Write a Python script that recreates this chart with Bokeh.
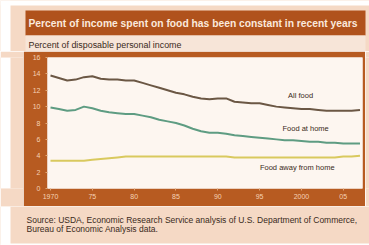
from bokeh.plotting import figure
from bokeh.models import Range1d, BoxAnnotation, Label, FixedTicker
from bokeh.layouts import column, row
from bokeh.embed import file_html
from bokeh.resources import INLINE

# ---------------- data ----------------
years = list(range(1970, 2008))
all_food = [13.8, 13.5, 13.2, 13.3, 13.6, 13.7, 13.4, 13.3, 13.3, 13.2,
            13.2, 12.9, 12.6, 12.3, 12.0, 11.7, 11.5, 11.2, 11.0, 10.9,
            11.0, 11.0, 10.6, 10.5, 10.4, 10.4, 10.2, 10.0, 9.9, 9.8,
            9.7, 9.7, 9.6, 9.5, 9.5, 9.5, 9.5, 9.6]
food_at_home = [9.9, 9.7, 9.5, 9.6, 10.0, 9.8, 9.5, 9.3, 9.2, 9.1,
                9.1, 8.9, 8.7, 8.4, 8.2, 8.0, 7.7, 7.3, 7.0, 6.8,
                6.8, 6.7, 6.5, 6.4, 6.3, 6.2, 6.1, 6.0, 5.9, 5.9,
                5.8, 5.7, 5.7, 5.6, 5.6, 5.5, 5.5, 5.5]
food_away = [3.4, 3.4, 3.4, 3.4, 3.4, 3.5, 3.6, 3.7, 3.8, 3.9,
             3.9, 3.9, 3.9, 3.9, 3.9, 3.9, 3.9, 3.9, 3.9, 3.9,
             3.9, 3.9, 3.8, 3.8, 3.8, 3.8, 3.8, 3.8, 3.8, 3.8,
             3.8, 3.8, 3.8, 3.8, 3.8, 3.9, 3.9, 4.0]
x_ticks = [1970, 1975, 1980, 1985, 1990, 1995, 2000, 2005]
x_tick_labels = ["1970", "75", "80", "85", "90", "95", "2000", "05"]
y_ticks = [0, 2, 4, 6, 8, 10, 12, 14, 16]

title_text = "Percent of income spent on food has been constant in recent years"
subtitle_text = "Percent of disposable personal income"
source_1 = "Source: USDA, Economic Research Service analysis of U.S. Department of Commerce,"
source_2 = "Bureau of Economic Analysis data."

# ---------------- style ----------------
FONT = "Liberation Sans"
PEACH = "#f5d9c5"
BROWN = "#b75b21"
TITLE_BG = "#b0521c"
SUB_BG = "#f7e5d8"
INNER = "#fdf6f0"
DARK = "#3a2a20"


def blank(w, h, x_end, y_end):
    f = figure(width=w, height=h, output_backend="svg", toolbar_location=None,
               x_range=Range1d(0, x_end), y_range=Range1d(y_end, 0),
               x_axis_type=None, y_axis_type=None, min_border=0)
    f.border_fill_color = PEACH
    f.background_fill_color = PEACH
    f.outline_line_color = None
    f.xgrid.visible = False
    f.ygrid.visible = False
    return f


def box(f, l, r, b, t, color):
    f.add_layout(BoxAnnotation(left=l, right=r, bottom=b, top=t, fill_color=color,
                               fill_alpha=1.0, line_color=None, level="underlay"))


def text(f, x, y, t, size, color, style="normal"):
    f.add_layout(Label(x=x, y=y, text=t, text_font=FONT, text_font_size=size,
                       text_color=color, text_font_style=style,
                       text_baseline="middle", text_align="left"))


# ---- header (title + subtitle) ----
head = blank(369, 51, 369, 51)
box(head, 0, 10, 51, 0, "white")
box(head, 0, 369, 5, 0, "white")
box(head, 25, 365, 35, 10, TITLE_BG)
box(head, 25, 365, 51, 35, SUB_BG)
text(head, 28, 23, title_text, "10.3px", "#fbe9dc", "bold")
text(head, 28, 44, subtitle_text, "8.9px", DARK)

# ---- side pads ----
left_pad = blank(23, 155, 23, 155)
box(left_pad, 0, 10, 155, 0, "white")
right_pad = blank(4, 155, 4, 155)

# ---- main chart ----
p = figure(width=342, height=155, output_backend="svg", toolbar_location=None,
           x_range=Range1d(1969.64, 2007.3), y_range=Range1d(0, 16),
           min_border_left=24, min_border_right=3, min_border_top=6, min_border_bottom=18)
p.border_fill_color = BROWN
p.background_fill_color = INNER
p.outline_line_color = None
p.xgrid.visible = False
p.ygrid.visible = False

p.line(years, all_food, line_color="#6b5744", line_width=2)
p.line(years, food_at_home, line_color="#5e9c82", line_width=2)
p.line(years, food_away, line_color="#d9c95e", line_width=2)

for ax in (p.xaxis[0], p.yaxis[0]):
    ax.axis_line_color = None
    ax.major_tick_line_color = "#e0a878"
    ax.minor_tick_line_color = None
    ax.major_tick_in = 0
    ax.major_tick_out = 2
    ax.major_label_text_font = FONT
    ax.major_label_text_font_size = "7px"
    ax.major_label_text_color = "#f6d2b4"

p.xaxis.ticker = FixedTicker(ticks=x_ticks)
p.xaxis.major_label_overrides = {t: s for t, s in zip(x_ticks, x_tick_labels)}
p.xaxis.major_label_standoff = 3
p.yaxis.ticker = FixedTicker(ticks=y_ticks)
p.yaxis.major_label_standoff = 5

for x, y, t in [(1999.9, 11.35, "All food"), (2000.5, 7.3, "Food at home"),
                (1999.5, 2.55, "Food away from home")]:
    p.add_layout(Label(x=x, y=y, text=t, text_font=FONT, text_font_size="7.5px",
                       text_color=DARK, text_align="center", text_baseline="middle"))

# ---- footer (source) ----
foot = blank(369, 39, 369, 39)
box(foot, 0, 10, 39, 0, "white")
box(foot, 0, 369, 39, 37, "white")
text(foot, 26, 13, source_1, "8.5px", DARK)
text(foot, 26, 22, source_2, "8.5px", DARK)

layout = column(head, row(left_pad, p, right_pad, spacing=0), foot, spacing=0)

open("out.html", "w").write(file_html(layout, INLINE))
